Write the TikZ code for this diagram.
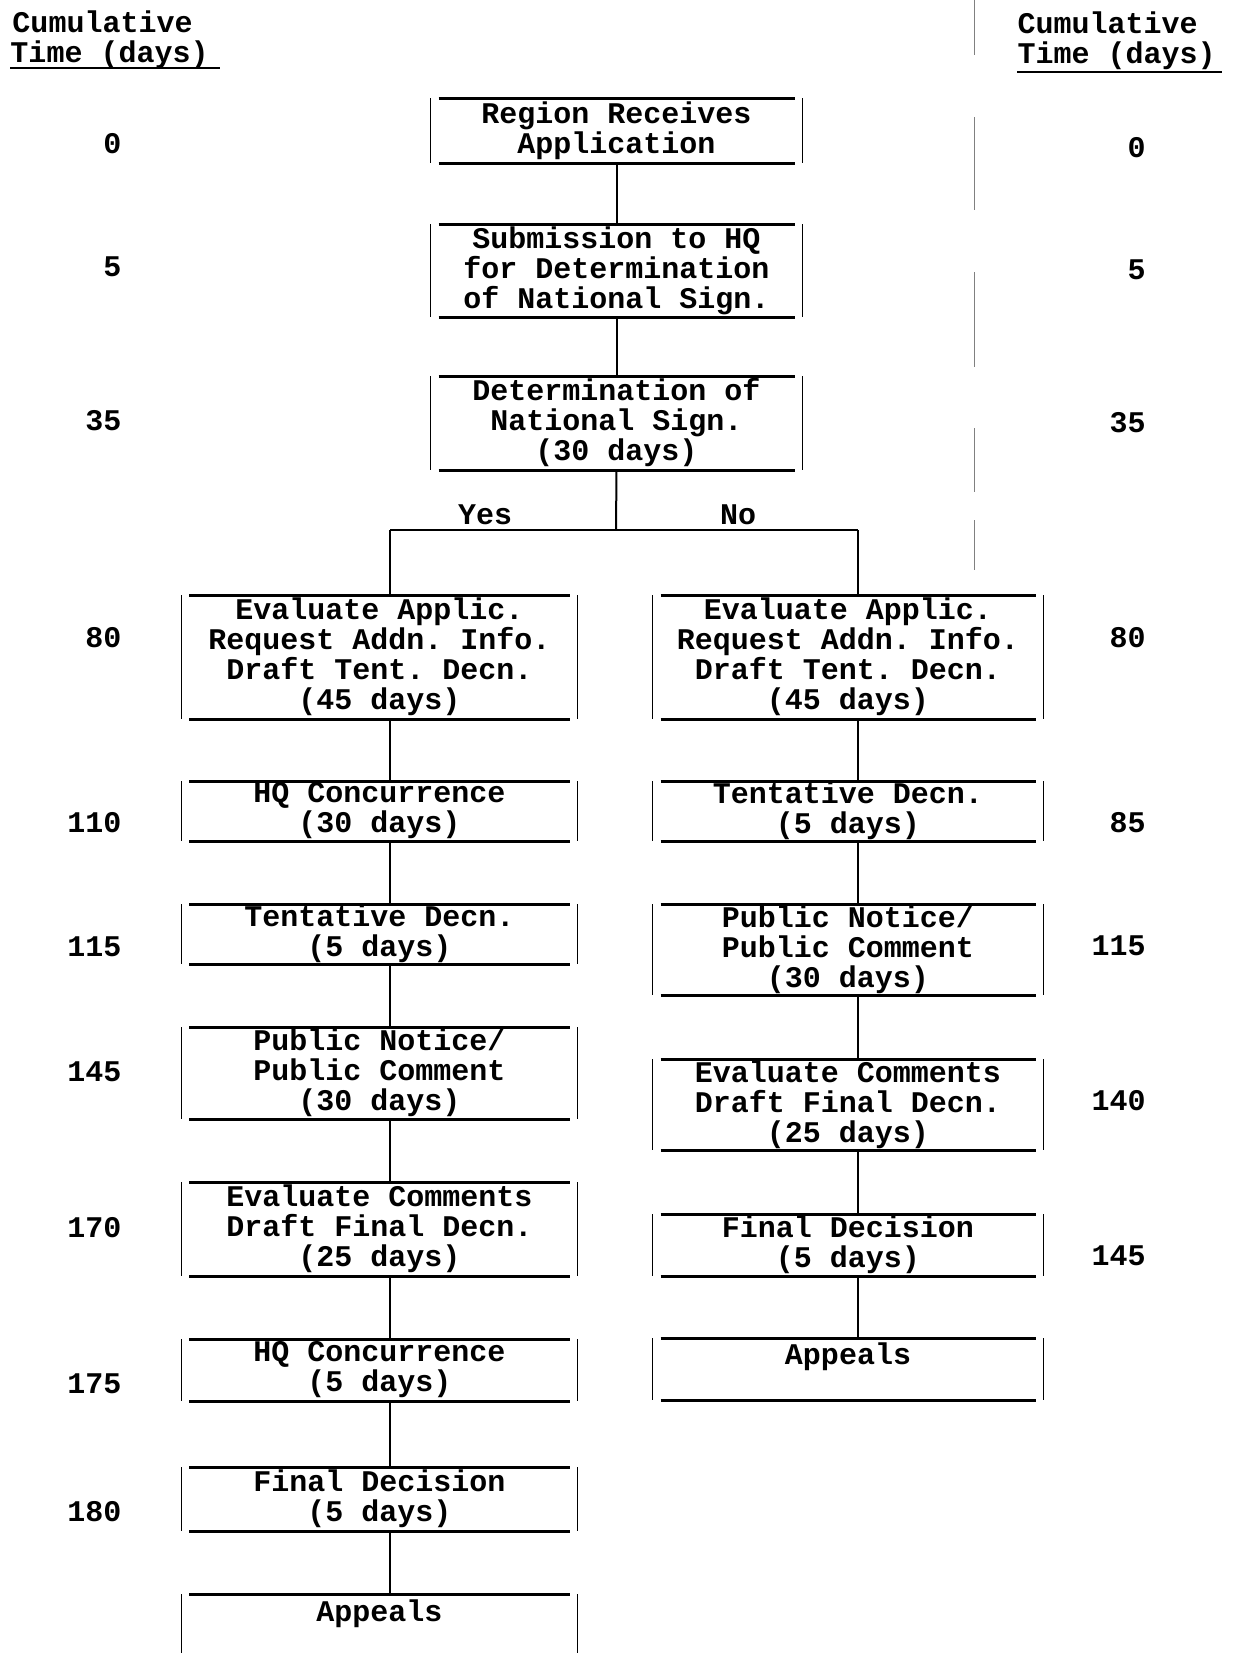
\documentclass[tikz,border=0pt]{standalone}
\usepackage{fontspec}
\usepackage{tikz}
\usetikzlibrary{positioning,calc}

\newfontfamily\typefont{Liberation Mono}
\newcommand{\boxfont}{\typefont\bfseries\fontsize{12}{12}\selectfont\frenchspacing}

% frame of a step: thin sides, heavy top and bottom rules
\newcommand{\stepframe}[1]{%
  \draw[sideline] (#1.north west) -- (#1.south west);
  \draw[sideline] (#1.north east) -- (#1.south east);
  \draw[edgeline] ([xshift=3.2pt]#1.north west) -- ([xshift=-3.2pt]#1.north east);
  \draw[edgeline] ([xshift=3.2pt]#1.south west) -- ([xshift=-3.2pt]#1.south east);
}

\tikzset{
  stepbox/.style={inner sep=0pt, align=center, anchor=north, font=\boxfont},
  midbox/.style={stepbox, minimum width=148.4pt},
  leftbox/.style={stepbox, minimum width=158pt},
  rightbox/.style={stepbox, minimum width=156pt},
  daynum/.style={font=\boxfont, inner sep=0pt},
  headtxt/.style={font=\boxfont, inner sep=0pt, anchor=base west},
  sideline/.style={line width=0.6pt},
  edgeline/.style={line width=1.2pt},
  conn/.style={line width=0.8pt},
}

\begin{document}
\begin{tikzpicture}[x=0.4pt, y=-0.4pt]
\useasboundingbox (0,0) rectangle (1234,1653);

% headers
\node[headtxt] (lcum) at (12,32) {Cumulative};
\node[headtxt] (ltime) at (10,62) {Time (days)};
\draw[line width=0.9pt] (10,68) -- (220,68);
\node[headtxt] (rcum) at (1017,33) {Cumulative};
\node[headtxt] (rtime) at (1017,63) {Time (days)};
\draw[line width=0.9pt] (1017,72) -- (1222,72);

% page gutter
\foreach \ya/\yb in {0/55,117/210,272/367,428/492,520/570}
  \draw[gray, line width=0.4pt] (974,\ya) -- (974,\yb);

% common steps
\node[midbox, minimum height=25.6pt] (recv) at (616.5,98) {Region Receives\\Application};
\node[midbox, minimum height=36.8pt] (subm) at (616.5,224) {Submission to HQ\\for Determination\\of National Sign.};
\node[midbox, minimum height=37.2pt] (dets) at (616.5,376) {Determination of\\National Sign.\\(30 days)};

% yes branch
\node[leftbox, minimum height=49.2pt] (ya) at (379.5,595) {Evaluate Applic.\\Request Addn. Info.\\Draft Tent. Decn.\\(45 days)};
\node[leftbox, minimum height=23.6pt] (yb) at (379.5,781) {HQ Concurrence\\(30 days)};
\node[leftbox, minimum height=23.6pt] (yc) at (379.5,904) {Tentative Decn.\\(5 days)};
\node[leftbox, minimum height=36.4pt] (yd) at (379.5,1027) {Public Notice/\\Public Comment\\(30 days)};
\node[leftbox, minimum height=37.2pt] (ye) at (379.5,1182) {Evaluate Comments\\Draft Final Decn.\\(25 days)};
\node[leftbox, minimum height=24.4pt] (yf) at (379.5,1339) {HQ Concurrence\\(5 days)};
\node[leftbox, minimum height=25.2pt] (yg) at (379.5,1467) {Final Decision\\(5 days)};
\node[leftbox, minimum height=25.2pt] (yh) at (379.5,1594) {Appeals\\\mbox{}};

% no branch
\node[rightbox, minimum height=49.2pt] (na) at (848,595) {Evaluate Applic.\\Request Addn. Info.\\Draft Tent. Decn.\\(45 days)};
\node[rightbox, minimum height=23.6pt] (nb) at (848,781) {Tentative Decn.\\(5 days)};
\node[rightbox, minimum height=36pt] (nc) at (848,904) {Public Notice/\\Public Comment\\(30 days)};
\node[rightbox, minimum height=36pt] (nd) at (848,1059) {Evaluate Comments\\Draft Final Decn.\\(25 days)};
\node[rightbox, minimum height=24.4pt] (ne) at (848,1214) {Final Decision\\(5 days)};
\node[rightbox, minimum height=24.4pt] (nf) at (848,1338) {Appeals\\\mbox{}};

\foreach \b in {recv,subm,dets,ya,yb,yc,yd,ye,yf,yg,yh,na,nb,nc,nd,ne,nf}
  {\stepframe{\b}}

% connectors
\coordinate (lstem) at (390,0);
\coordinate (rstem) at (858,0);
\coordinate (split) at (616,530);
\draw[conn] (recv.south) -- (subm.north);
\draw[conn] (subm.south) -- (dets.north);
\draw[conn] (dets.south) -- (split);
\draw[line width=1pt] (split -| lstem) -- (split -| rstem);
\draw[conn] (split -| lstem) -- (ya.north -| lstem);
\draw[conn] (split -| rstem) -- (na.north -| rstem);
\foreach \a/\b in {ya/yb,yb/yc,yc/yd,yd/ye,ye/yf,yf/yg,yg/yh}
  \draw[conn] (\a.south -| lstem) -- (\b.north -| lstem);
\foreach \a/\b in {na/nb,nb/nc,nc/nd,nd/ne,ne/nf}
  \draw[conn] (\a.south -| rstem) -- (\b.north -| rstem);

\node[daynum] (yes) at (485,515) {Yes};
\node[daynum] (no) at (738,515) {No};

% cumulative days
\foreach \t/\y in {0/144,5/267,35/421,80/638,110/823,115/947,145/1072,170/1228,175/1384,180/1512}
  \node[daynum, anchor=east] (l\t) at (122,\y) {\t};
\foreach \t/\y in {0/148,5/270,35/423,80/638,85/823,115/946,140/1101,145/1256}
  \node[daynum, anchor=east] (r\t) at (1146,\y) {\t};

\end{tikzpicture}
\end{document}
